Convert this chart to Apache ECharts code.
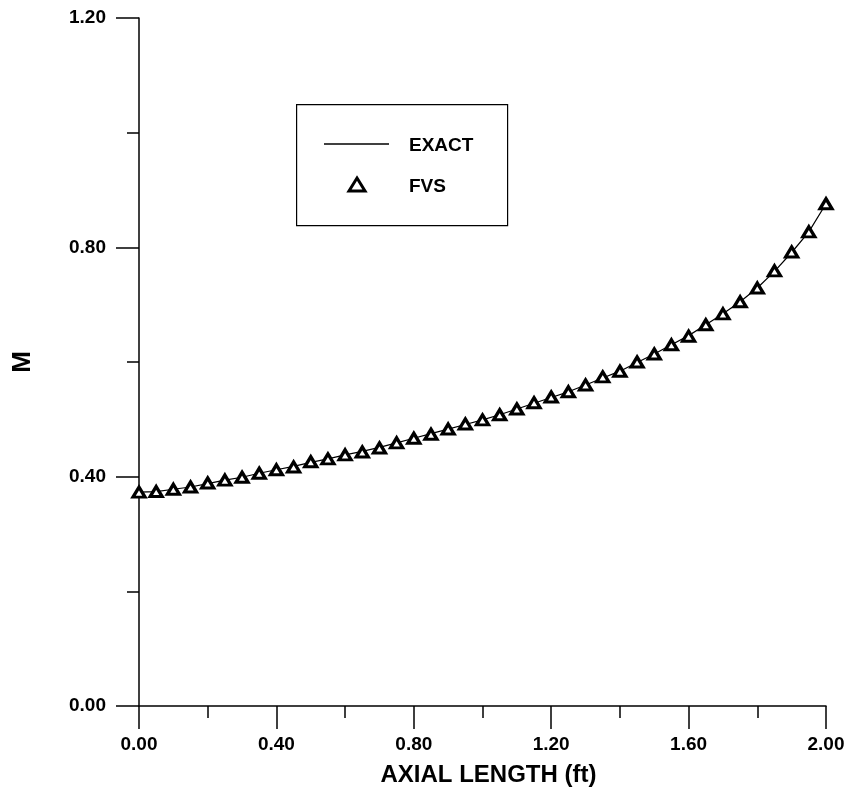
<!DOCTYPE html>
<html>
<head>
<meta charset="utf-8">
<title>M vs axial length</title>
<script src="https://cdn.jsdelivr.net/npm/echarts@6/dist/echarts.min.js"></script>
<style>
  html, body { margin: 0; padding: 0; background: #fff; }
  #chart { width: 850px; height: 794px; }
</style>
</head>
<body>
<div id="chart"></div>
<script>
// axial length (ft), step 0.05
const axialLength = [
  0.00, 0.05, 0.10, 0.15, 0.20, 0.25, 0.30, 0.35, 0.40, 0.45,
  0.50, 0.55, 0.60, 0.65, 0.70, 0.75, 0.80, 0.85, 0.90, 0.95,
  1.00, 1.05, 1.10, 1.15, 1.20, 1.25, 1.30, 1.35, 1.40, 1.45,
  1.50, 1.55, 1.60, 1.65, 1.70, 1.75, 1.80, 1.85, 1.90, 1.95, 2.00
]
// exact solution
const exactM = [
  0.373, 0.374, 0.378, 0.382, 0.388, 0.394, 0.399, 0.406, 0.412, 0.418,
  0.425, 0.431, 0.438, 0.444, 0.451, 0.459, 0.467, 0.475, 0.483, 0.491,
  0.499, 0.508, 0.518, 0.528, 0.538, 0.548, 0.560, 0.572, 0.584, 0.599,
  0.614, 0.630, 0.646, 0.665, 0.684, 0.705, 0.729, 0.758, 0.791, 0.827, 0.876
]
// FVS results (same stations)
const fvsM = [
  0.373, 0.374, 0.378, 0.382, 0.389, 0.394, 0.399, 0.406, 0.412, 0.417,
  0.426, 0.431, 0.438, 0.443, 0.450, 0.459, 0.467, 0.474, 0.483, 0.492,
  0.499, 0.508, 0.518, 0.529, 0.539, 0.548, 0.560, 0.574, 0.584, 0.600,
  0.614, 0.630, 0.645, 0.665, 0.684, 0.705, 0.729, 0.759, 0.792, 0.827, 0.876
]
const xTicks = ['0.00', '0.40', '0.80', '1.20', '1.60', '2.00']
const yTicks = ['0.00', '0.40', '0.80', '1.20']
const legendNames = ['EXACT', 'FVS']

const font = 'Liberation Sans, Arial, sans-serif'

const chart = echarts.init(document.getElementById('chart'), null, { renderer: 'canvas' })

const axisCommon = {
  type: 'value',
  axisLine: { show: true, lineStyle: { color: '#000', width: 1.5 } },
  axisTick: { show: true, inside: false, length: 23, lineStyle: { color: '#000', width: 1.5 } },
  minorTick: { show: true, splitNumber: 2, length: 12, lineStyle: { color: '#000', width: 1.5 } },
  splitLine: { show: false },
  nameTextStyle: { color: '#000', fontFamily: font, fontWeight: 'bold' }
}

const labelText = { fill: '#000', fontFamily: font, fontWeight: 'bold', fontSize: 19, verticalAlign: 'top' }

chart.setOption({
  animation: false,
  backgroundColor: '#fff',
  grid: { left: 139, right: 24, top: 18, bottom: 88, containLabel: false, outerBoundsMode: 'none' },
  xAxis: {
    ...axisCommon,
    min: 0, max: 2, interval: 0.4,
    name: 'AXIAL LENGTH (ft)',
    nameLocation: 'middle',
    nameGap: 57,
    nameTextStyle: { ...axisCommon.nameTextStyle, fontSize: 24, padding: [0, 0, 0, 12] },
    axisLabel: {
      margin: 29, color: '#000', fontFamily: font, fontWeight: 'bold', fontSize: 19,
      formatter: (v) => xTicks.find(t => Math.abs(parseFloat(t) - v) < 1e-6) || ''
    }
  },
  yAxis: {
    ...axisCommon,
    min: 0, max: 1.2, interval: 0.4,
    name: 'M',
    nameLocation: 'middle',
    nameGap: 103,
    nameRotate: 90,
    nameTextStyle: { ...axisCommon.nameTextStyle, fontSize: 26 },
    axisLabel: {
      margin: 33, color: '#000', fontFamily: font, fontWeight: 'bold', fontSize: 19,
      formatter: (v) => yTicks.find(t => Math.abs(parseFloat(t) - v) < 1e-6) || ''
    }
  },
  // legend box drawn by hand to match the boxed key of the original
  graphic: [
    {
      type: 'rect', left: 296, top: 104, z: 10,
      shape: { width: 211, height: 121 },
      style: { fill: '#fff', stroke: '#000', lineWidth: 1.2 }
    },
    {
      type: 'line', z: 11,
      shape: { x1: 324, y1: 144, x2: 389, y2: 144 },
      style: { stroke: '#000', lineWidth: 1.5 }
    },
    {
      type: 'text', left: 409, top: 136, z: 11,
      style: { ...labelText, text: legendNames[0] }
    },
    {
      type: 'polygon', z: 11,
      shape: { points: [[357, 178], [365, 191], [349, 191]] },
      style: { fill: '#fff', stroke: '#000', lineWidth: 3 }
    },
    {
      type: 'text', left: 409, top: 177, z: 11,
      style: { ...labelText, text: legendNames[1] }
    }
  ],
  series: [
    {
      name: 'EXACT',
      type: 'line',
      data: axialLength.map((x, i) => [x, exactM[i]]),
      symbol: 'none',
      smooth: false,
      lineStyle: { color: '#000', width: 1.2 },
      itemStyle: { color: '#000' },
      z: 2
    },
    {
      name: 'FVS',
      type: 'scatter',
      data: axialLength.map((x, i) => [x, fvsM[i]]),
      symbol: 'triangle',
      symbolSize: [12, 10],
      itemStyle: { color: '#fff', borderColor: '#000', borderWidth: 3.2, opacity: 1 },
      z: 3
    }
  ]
})
</script>
</body>
</html>
